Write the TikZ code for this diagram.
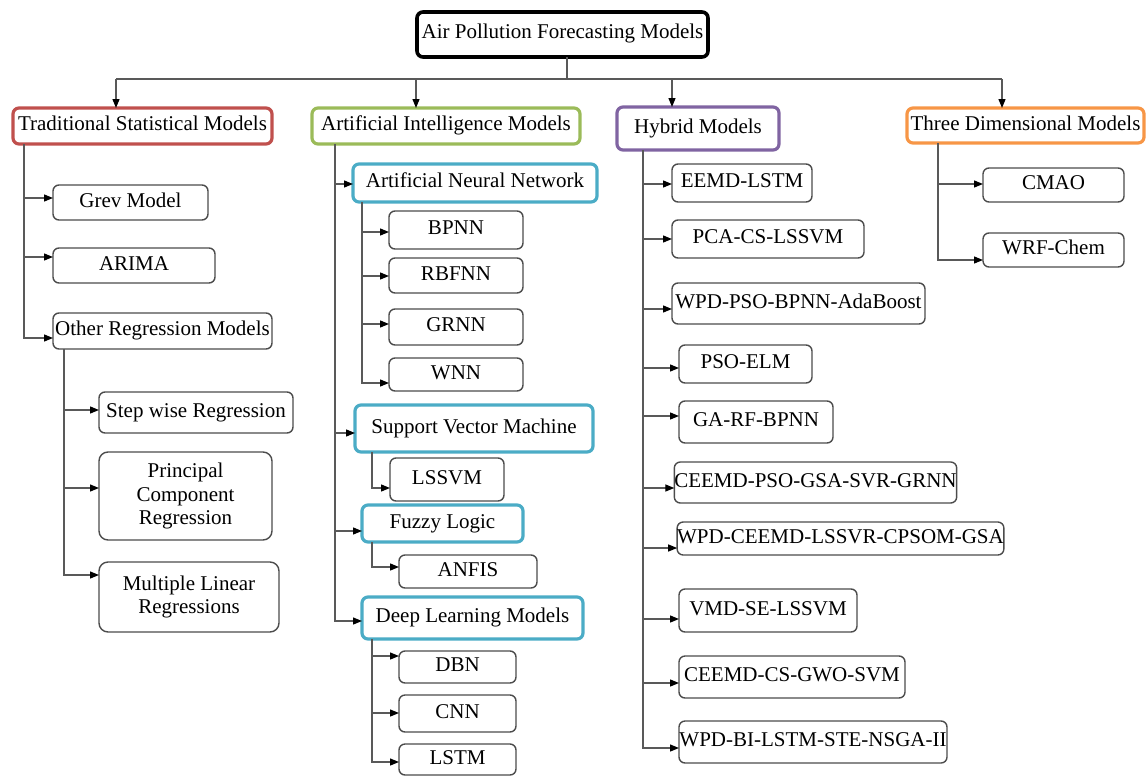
\documentclass[tikz,border=0pt]{standalone}
\usepackage{fontspec}
\setmainfont{Liberation Serif}
\usetikzlibrary{arrows.meta}
\definecolor{cRed}{HTML}{C0504D}
\definecolor{cGreen}{HTML}{9BBB59}
\definecolor{cPurple}{HTML}{8064A2}
\definecolor{cOrange}{HTML}{F79646}
\definecolor{cBlue}{HTML}{4BACC6}
\definecolor{cLine}{HTML}{595959}
\newcommand\mybox[7]{\node[#1, minimum width={(#5-#3)*1pt}, minimum height={(#6-#4)*1pt}] (#2) at ({(#3+#5)/2},{(#4+#6)/2}) {#7};}
\newcommand\harr[3]{\coordinate (#1) at (#2); \draw[arr] (#1) -- (#1 -| #3.west);}
\begin{document}
\begin{tikzpicture}[x=1pt,y=-1pt,
  boxfont/.style={font=\fontsize{21}{23.5}\selectfont},
  boxbase/.style={rectangle, rounded corners=6pt, inner sep=0pt, outer sep=0pt, fill=white, boxfont},
  one/.style={text height=13pt, text depth=4pt},
  leaf/.style={boxbase, one, draw=black!70, line width=1.4pt},
  leafm/.style={boxbase, align=center, draw=black!70, line width=1.4pt, rounded corners=9pt},
  cat/.style={boxbase, one, line width=3.2pt},
  rootbox/.style={boxbase, one, draw=black, line width=3.6pt},
  link/.style={draw=cLine, line width=1.3pt},
  arr/.style={link, -{Triangle[length=9pt,width=7pt,color=black]}}
]
\useasboundingbox (0,0) rectangle (1147,776);

% root and categories
\mybox{rootbox}{root}{417}{12}{708}{57}{Air Pollution Forecasting Models}
\mybox{cat, draw=cRed}{trad}{13}{108}{272}{144}{Traditional Statistical Models}
\mybox{cat, draw=cGreen}{ai}{312}{108}{580}{144}{Artificial Intelligence Models}
\mybox{cat, draw=cPurple}{hyb}{617}{107}{779}{150}{Hybrid Models}
\mybox{cat, draw=cOrange}{three}{907}{108}{1144}{143}{Three Dimensional Models}

% traditional
\mybox{leaf}{grev}{53}{185}{208}{220}{Grev Model}
\mybox{leaf}{arima}{53}{248}{215}{283}{ARIMA}
\mybox{leaf}{other}{53}{313}{272}{349}{Other Regression Models}
\mybox{leaf}{step}{99}{392}{293}{433}{Step wise Regression}
\mybox{leafm}{pcr}{99}{452}{272}{540}{Principal\\Component\\Regression}
\mybox{leafm}{mlr}{99}{562}{279}{632}{Multiple Linear\\Regressions}

% AI
\mybox{cat, draw=cBlue}{ann}{353}{164}{597}{202}{Artificial Neural Network}
\mybox{leaf}{bpnn}{389}{211}{523}{249}{BPNN}
\mybox{leaf}{rbfnn}{389}{258}{523}{293}{RBFNN}
\mybox{leaf}{grnn}{389}{309}{523}{345}{GRNN}
\mybox{leaf}{wnn}{389}{358}{523}{391}{WNN}
\mybox{cat, draw=cBlue}{svm}{355}{405}{593}{452}{Support Vector Machine}
\mybox{leaf}{lssvm}{390}{458}{504}{501}{LSSVM}
\mybox{cat, draw=cBlue}{fuzzy}{362}{505}{523}{542}{Fuzzy Logic}
\mybox{leaf}{anfis}{399}{555}{537}{588}{ANFIS}
\mybox{cat, draw=cBlue}{dl}{362}{597}{583}{639}{Deep Learning Models}
\mybox{leaf}{dbn}{399}{651}{516}{683}{DBN}
\mybox{leaf}{cnn}{399}{695}{516}{732}{CNN}
\mybox{leaf}{lstm}{399}{744}{516}{775}{LSTM}

% hybrid
\mybox{leaf}{h1}{672}{164}{812}{202}{EEMD-LSTM}
\mybox{leaf}{h2}{672}{220}{864}{258}{PCA-CS-LSSVM}
\mybox{leaf}{h3}{672}{283}{925}{324}{WPD-PSO-BPNN-AdaBoost}
\mybox{leaf}{h4}{679}{345}{812}{383}{PSO-ELM}
\mybox{leaf}{h5}{679}{401}{833}{443}{GA-RF-BPNN}
\mybox{leaf}{h6}{679}{462}{952}{503}{CEEMD-PSO-GSA-SVR-GRNN}
\mybox{leaf}{h7}{679}{522}{1002}{555}{WPD-CEEMD-LSSVR-CPSOM-GSA}
\mybox{leaf}{h8}{679}{589}{857}{632}{VMD-SE-LSSVM}
\mybox{leaf}{h9}{679}{656}{905}{698}{CEEMD-CS-GWO-SVM}
\mybox{leaf}{h10}{679}{721}{947}{763}{WPD-BI-LSTM-STE-NSGA-II}

% three dimensional
\mybox{leaf}{cmao}{983}{168}{1124}{202}{CMAO}
\mybox{leaf}{wrf}{983}{233}{1124}{267}{WRF-Chem}

% top bus
\coordinate (stem) at (567,79);
\coordinate (busL) at (116,79);
\coordinate (busA) at (416,79);
\coordinate (busH) at (672,79);
\coordinate (busR) at (1002,79);
\draw[link] (root.south -| stem) -- (stem);
\draw[link] (busL) -- (busR);
\draw[arr] (busL) -- (busL |- trad.north);
\draw[arr] (busA) -- (busA |- ai.north);
\draw[arr] (busH) -- (busH |- hyb.north);
\draw[arr] (busR) -- (busR |- three.north);

% traditional trunk
\harr{ta}{24,198}{grev}
\harr{tb}{24,257}{arima}
\coordinate (tc) at (24,338);
\draw[arr] (trad.south -| tc) -- (tc) -- (tc -| other.west);
\harr{oa}{64,410}{step}
\harr{ob}{64,488}{pcr}
\coordinate (oc) at (64,575);
\draw[arr] (other.south -| oc) -- (oc) -- (oc -| mlr.west);

% AI trunk
\harr{aa}{335,184}{ann}
\harr{ab}{335,433}{svm}
\harr{ac}{335,531}{fuzzy}
\coordinate (ad) at (335,621);
\draw[arr] (ai.south -| ad) -- (ad) -- (ad -| dl.west);
\harr{na}{362,232}{bpnn}
\harr{nb}{362,276}{rbfnn}
\harr{nc}{362,324}{grnn}
\coordinate (nd) at (362,383);
\draw[arr] (ann.south -| nd) -- (nd) -- (nd -| wnn.west);
\coordinate (sa) at (372,488);
\draw[arr] (svm.south -| sa) -- (sa) -- (sa -| lssvm.west);
\coordinate (fa) at (372,567);
\draw[arr] (fuzzy.south -| fa) -- (fa) -- (fa -| anfis.west);
\harr{da}{372,656}{dbn}
\harr{db}{372,713}{cnn}
\coordinate (dc) at (372,762);
\draw[arr] (dl.south -| dc) -- (dc) -- (dc -| lstm.west);

% hybrid trunk
\harr{ha}{643,184}{h1}
\harr{hb}{643,239}{h2}
\harr{hc}{643,309}{h3}
\harr{hd}{643,368}{h4}
\harr{he}{643,416}{h5}
\harr{hf}{643,488}{h6}
\harr{hg}{643,548}{h7}
\harr{hh}{643,619}{h8}
\harr{hi}{643,683}{h9}
\coordinate (hj) at (643,748);
\draw[arr] (hyb.south -| hj) -- (hj) -- (hj -| h10.west);

% three dimensional trunk
\harr{ra}{938,184}{cmao}
\coordinate (rb) at (938,260);
\draw[arr] (three.south -| rb) -- (rb) -- (rb -| wrf.west);
\end{tikzpicture}
\end{document}
